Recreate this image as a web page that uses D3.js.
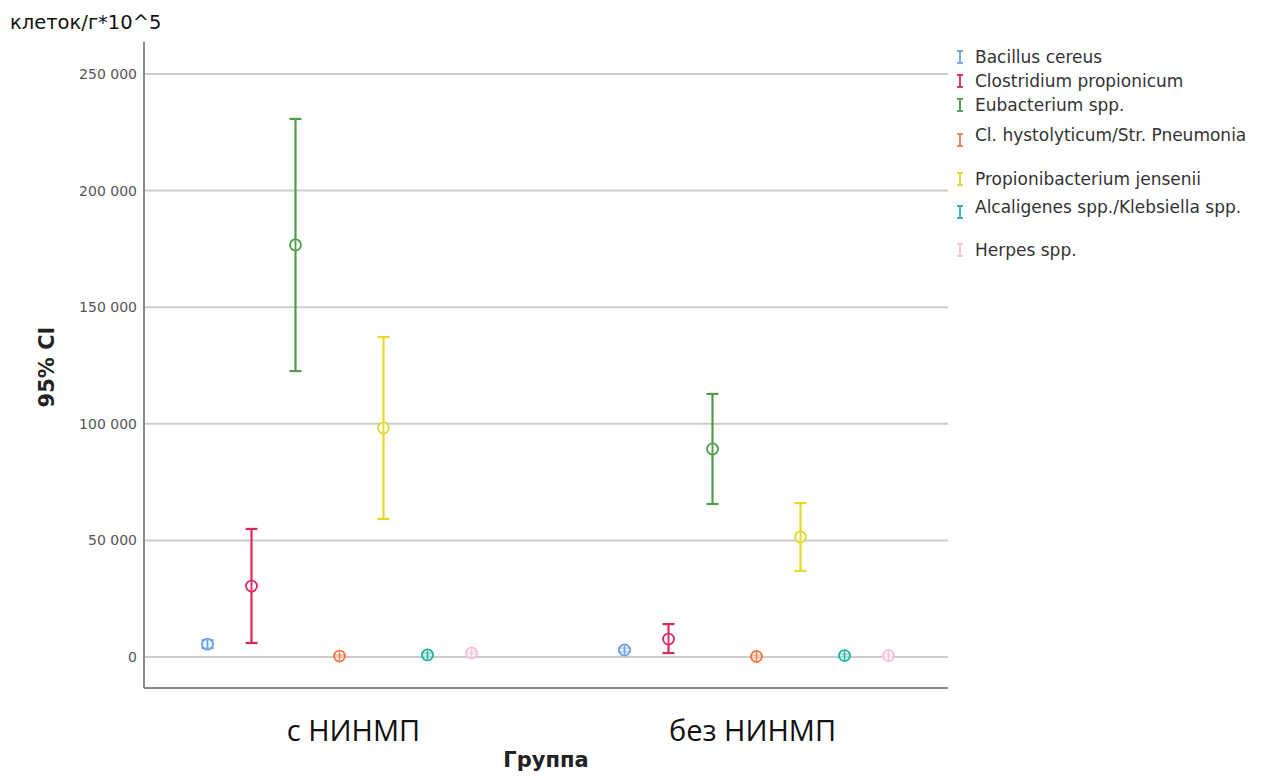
<!DOCTYPE html>
<html>
<head>
<meta charset="utf-8">
<script src="https://cdn.jsdelivr.net/npm/d3@7"></script>
<style>
  body { margin: 0; background: #fff; }
  text { font-family: "DejaVu Sans", sans-serif; }
</style>
</head>
<body>
<div id="chart"></div>
<script>
// groups on the x axis
const groups = ["с НИНМП", "без НИНМП"];
// series (legend order)
const series = [
    "Bacillus cereus",
    "Clostridium propionicum",
    "Eubacterium spp.",
    "Cl. hystolyticum/Str. Pneumonia",
    "Propionibacterium jensenii",
    "Alcaligenes spp./Klebsiella spp.",
    "Herpes spp."
];
const colors = ["#6a9ff0", "#dc2a5a", "#4e9c48", "#f07a40", "#e6d828", "#22b4a0", "#f6bedc"];
// mean values per series, [с НИНМП, без НИНМП]
const means = [
    [5500, 3000],
    [30400, 7700],
    [176700, 89200],
    [400, 200],
    [98200, 51500],
    [900, 600],
    [1700, 600]
];
// 95% CI lower bounds
const lower = [
    [3900, 2200],
    [6000, 1700],
    [122600, 65600],
    [0, -300],
    [59200, 36900],
    [200, 0],
    [1200, 100]
];
// 95% CI upper bounds
const upper = [
    [7200, 3800],
    [54900, 14100],
    [230700, 112800],
    [800, 700],
    [137200, 66000],
    [1600, 1200],
    [2200, 1100]
];
const yTicks = [0, 50000, 100000, 150000, 200000, 250000];

const width = 1269, height = 776;
const plot = { left: 144, right: 948, top: 42, bottom: 688 };

const svg = d3.select("#chart")
    .append("svg")
    .attr("width", width)
    .attr("height", height);

const yscale = d3.scaleLinear()
    .domain([-13300, 263700])
    .range([plot.bottom, plot.top]);

const xscale = d3.scalePoint()
    .domain(groups)
    .range([plot.left + 2, plot.right + 2])
    .padding(0.464);

const offset = d3.scalePoint()
    .domain(series)
    .range([-132, 132]);

const labelscale = d3.scaleBand()
    .domain(groups)
    .range([154, 952]);

const fmt = v => d3.format(",")(v).replace(/,/g, " ");

// gridlines
svg.append("g")
    .selectAll("line")
    .data(yTicks)
    .join("line")
    .attr("x1", plot.left)
    .attr("x2", plot.right)
    .attr("y1", d => yscale(d))
    .attr("y2", d => yscale(d))
    .attr("stroke", "#cccccc")
    .attr("stroke-width", 2);

// y axis
const yAxis = d3.axisLeft(yscale)
    .tickValues(yTicks)
    .tickSize(0)
    .tickPadding(7)
    .tickFormat(fmt);

const yg = svg.append("g")
    .attr("transform", "translate(" + plot.left + ",0)")
    .call(yAxis);
yg.select(".domain").remove();
yg.selectAll("text")
    .attr("font-size", "14px")
    .attr("fill", "#555")
    .style("font-family", "'DejaVu Sans', sans-serif");

// frame lines
svg.append("line")
    .attr("x1", plot.left).attr("x2", plot.left)
    .attr("y1", plot.top).attr("y2", plot.bottom)
    .attr("stroke", "#8a8a8a").attr("stroke-width", 2);
svg.append("line")
    .attr("x1", plot.left).attr("x2", plot.right)
    .attr("y1", plot.bottom).attr("y2", plot.bottom)
    .attr("stroke", "#8a8a8a").attr("stroke-width", 2);

// x category labels
svg.append("g")
    .selectAll("text")
    .data(groups)
    .join("text")
    .attr("x", d => labelscale(d) + labelscale.bandwidth() / 2)
    .attr("y", 741)
    .attr("text-anchor", "middle")
    .attr("font-size", "29px")
    .attr("fill", "#111")
    .style("font-family", "'Open Sans', sans-serif")
    .text(d => d);

// axis titles
svg.append("text")
    .attr("x", 546)
    .attr("y", 767)
    .attr("text-anchor", "middle")
    .attr("font-size", "21px")
    .attr("font-weight", "bold")
    .attr("fill", "#222")
    .text("Группа");

svg.append("text")
    .attr("transform", "translate(54,367) rotate(-90)")
    .attr("text-anchor", "middle")
    .attr("font-size", "21px")
    .attr("font-weight", "bold")
    .attr("fill", "#222")
    .text("95% CI");

svg.append("text")
    .attr("x", 10)
    .attr("y", 29)
    .attr("font-size", "19.5px")
    .attr("fill", "#111")
    .text("клеток/г*10^5");

// build rows
const rows = [];
series.forEach(function(s, i) {
    groups.forEach(function(g, j) {
        rows.push({
            series: s, group: g, color: colors[i],
            mean: means[i][j], lo: lower[i][j], hi: upper[i][j]
        });
    });
});

const cap = 6;
const marks = svg.append("g")
    .selectAll("g")
    .data(rows)
    .join("g")
    .attr("transform", d => "translate(" + (xscale(d.group) + offset(d.series)) + ",0)")
    .attr("stroke", d => d.color)
    .attr("fill", "none");

marks.append("line")
    .attr("y1", d => yscale(d.hi))
    .attr("y2", d => yscale(d.lo))
    .attr("stroke-width", 2.2);
marks.append("line")
    .attr("x1", -cap).attr("x2", cap)
    .attr("y1", d => yscale(d.hi))
    .attr("y2", d => yscale(d.hi))
    .attr("stroke-width", 2.2);
marks.append("line")
    .attr("x1", -cap).attr("x2", cap)
    .attr("y1", d => yscale(d.lo))
    .attr("y2", d => yscale(d.lo))
    .attr("stroke-width", 2.2);
marks.append("circle")
    .attr("cy", d => yscale(d.mean))
    .attr("r", 5.5)
    .attr("fill", "#fff")
    .attr("fill-opacity", 0.6)
    .attr("stroke-width", 1.8);
marks.append("line")
    .attr("y1", d => yscale(d.mean) - 4.5)
    .attr("y2", d => yscale(d.mean) + 4.5)
    .attr("stroke-width", 1.5);

// legend
const legendRowY = [57, 81, 105, 135, 179, 207, 250];
const legend = svg.append("g")
    .selectAll("g")
    .data(series)
    .join("g")
    .attr("transform", (d, i) => "translate(960," + legendRowY[i] + ")");

legend.each(function(d, i) {
    const g = d3.select(this);
    const dy = (i === 3 || i === 5) ? 5 : 0;
    g.append("line").attr("x1", 0).attr("x2", 0).attr("y1", -6 + dy).attr("y2", 6 + dy)
        .attr("stroke", colors[i]).attr("stroke-width", 1.8);
    g.append("line").attr("x1", -3).attr("x2", 3).attr("y1", -6 + dy).attr("y2", -6 + dy)
        .attr("stroke", colors[i]).attr("stroke-width", 1.8);
    g.append("line").attr("x1", -3).attr("x2", 3).attr("y1", 6 + dy).attr("y2", 6 + dy)
        .attr("stroke", colors[i]).attr("stroke-width", 1.8);
    g.append("text")
        .attr("x", 15)
        .attr("y", 6)
        .attr("font-size", "17px")
        .attr("fill", "#333")
        .text(d);
});
</script>
</body>
</html>
